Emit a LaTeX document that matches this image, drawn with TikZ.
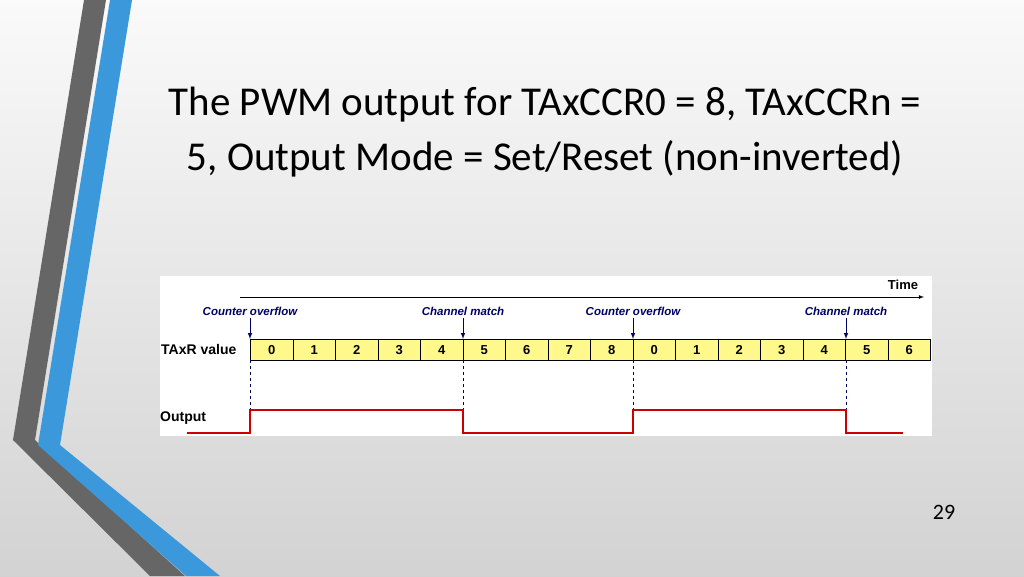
\documentclass[tikz,border=0pt]{standalone}
\usepackage{fontspec}
\setmainfont{Carlito}
\newfontfamily\arial{Liberation Sans}
\begin{document}
\begin{tikzpicture}[x=1pt,y=-1pt,
  cell/.style={draw=black,fill=yellow!45,minimum width=42.5pt,minimum height=21pt,inner sep=0,text height=10pt,text depth=0pt,font=\arial\bfseries\fontsize{13}{14}\selectfont,anchor=north west,line width=0.8pt},
  evt/.style={font=\arial\bfseries\itshape\fontsize{11.5}{13}\selectfont,text=blue!40!black},
  lab/.style={font=\arial\bfseries\fontsize{14}{16}\selectfont,anchor=west,inner sep=1pt},
  evarrow/.style={-latex,draw=blue!40!black,line width=1pt},
  guide/.style={dashed,draw=blue!40!black,line width=0.6pt},
  sig/.style={draw=red!80!black,line width=1.2pt}]
\shade[top color=white!96!gray,bottom color=gray!35] (0,0) rectangle (1024,576);
\useasboundingbox (0,0) rectangle (1024,576);
\fill[gray!80!black] (84,0) -- (106,0) -- (35,440) -- (185,576) -- (150,576) -- (13,440) -- cycle;
\fill[cyan!70!blue!80] (110,0) -- (132,0) -- (60,445) -- (220,576) -- (186,576) -- (38,445) -- cycle;
\node[font=\fontsize{41}{55}\selectfont,align=center] (title) at (545,132) {The PWM output for TAxCCR0 = 8, TAxCCRn =\\5, Output Mode = Set/Reset (non-inverted)};
\node[font=\fontsize{22}{24}\selectfont] (pg) at (944,512) {29};
\fill[white] (160,276) rectangle (932,436);
\coordinate (t0) at (240,297); \coordinate (t1) at (924,297);
\draw[-latex,line width=0.8pt] (t0) -- (t1);
\node[font=\arial\bfseries\fontsize{13}{14}\selectfont] (time) at (903,285) {Time};
\node[lab] (tv) at (160,349) {TAxR value};
\node[lab] (out) at (159,418) {Output};
\foreach \v [count=\i from 0] in {0,1,2,3,4,5,6,7,8,0,1,2,3,4,5,6}
  \node[cell] (c\i) at (250+42.5*\i,339) {\v};
\foreach \x/\t [count=\k] in {250/Counter overflow,463/Channel match,633/Counter overflow,846/Channel match}{
  \node[evt] (e\k) at (\x,311) {\t};
  \coordinate (a\k) at (\x,318); \coordinate (b\k) at (\x,339); \coordinate (d\k) at (\x,410);
  \draw[evarrow] (a\k) -- (b\k);
  \draw[guide] (\x,360) -- (d\k);
}
\draw[sig] (187,433) -- (250,433) -- (d1) -- (d2) -- (463,433) -- (633,433) -- (d3) -- (d4) -- (846,433) -- (903,433);
\end{tikzpicture}
\end{document}
